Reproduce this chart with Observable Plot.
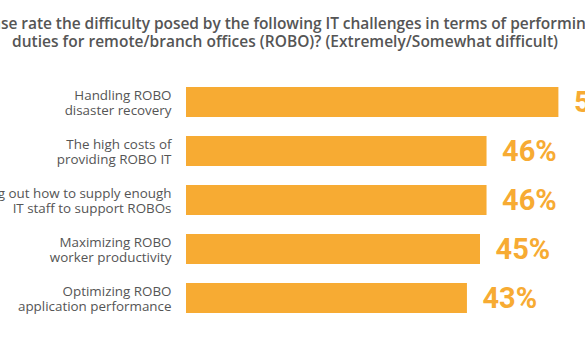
<!DOCTYPE html>
<html>
<head>
<meta charset="utf-8">
<script src="https://cdn.jsdelivr.net/npm/d3@7"></script>
<script src="https://cdn.jsdelivr.net/npm/@observablehq/plot@0.6"></script>
<style>
  html, body { margin: 0; padding: 0; background: #fff; }
  #wrap { width: 585px; height: 350px; overflow: hidden; position: relative; }
  .tl { position: absolute; white-space: nowrap; font-family: "Open Sans", sans-serif;
    font-weight: 600; font-size: 15.5px; line-height: 18px; color: #555; }
  #t1 { top: 14px; left: 0; letter-spacing: -0.05px; }
  #t2 { top: 32px; left: -715px; width: 2000px; text-align: center; letter-spacing: 0.02px; }
  #chart { position: absolute; left: 0; top: 60px; }
</style>
</head>
<body>
<div id="wrap">
  <div id="t1" class="tl"><span id="pre">Plea</span>se rate the difficulty posed by the following IT challenges in terms of performing IT</div>
  <div id="t2" class="tl">duties for remote/branch offices (ROBO)? (Extremely/Somewhat difficult)</div>
  <div id="chart"></div>
</div>
<script>
const categories = [
  "Handling ROBO\ndisaster recovery",
  "The high costs of\nproviding ROBO IT",
  "Figuring out how to supply enough\nIT staff to support ROBOs",
  "Maximizing ROBO\nworker productivity",
  "Optimizing ROBO\napplication performance"
];
const values = [57, 46, 46, 45, 43];
const valueLabels = ["57%", "46%", "46%", "45%", "43%"];

const data = categories.map((c, i) => ({category: c, value: values[i], label: valueLabels[i]}));
const orange = "#F7AB33";

const chart = Plot.plot({
  width: 585,
  height: 290,
  marginLeft: 186,
  marginRight: 7,
  marginTop: 7,
  marginBottom: 18,
  style: {background: "#fff", overflow: "visible"},
  x: {domain: [0, 60], axis: null},
  y: {domain: categories, padding: 0.39, axis: null},
  marks: [
    Plot.barX(data, {x: "value", y: "category", fill: orange}),
    Plot.text(data, {x: 0, y: "category", text: "category", textAnchor: "end", dx: -15,
      fill: "#555", fontSize: 13.4, lineHeight: 1.12, fontFamily: "Open Sans, sans-serif"}),
    Plot.text(data, {x: "value", y: "category", text: "label", textAnchor: "start", dx: 15,
      fill: orange, fontSize: 29, fontWeight: 700, fontFamily: "Roboto, sans-serif",
      style: "letter-spacing: 2.4px"})
  ]
});
document.getElementById("chart").appendChild(chart);
const pre = document.getElementById("pre");
document.getElementById("t1").style.left = (1 - pre.getBoundingClientRect().width) + "px";
</script>
</body>
</html>
